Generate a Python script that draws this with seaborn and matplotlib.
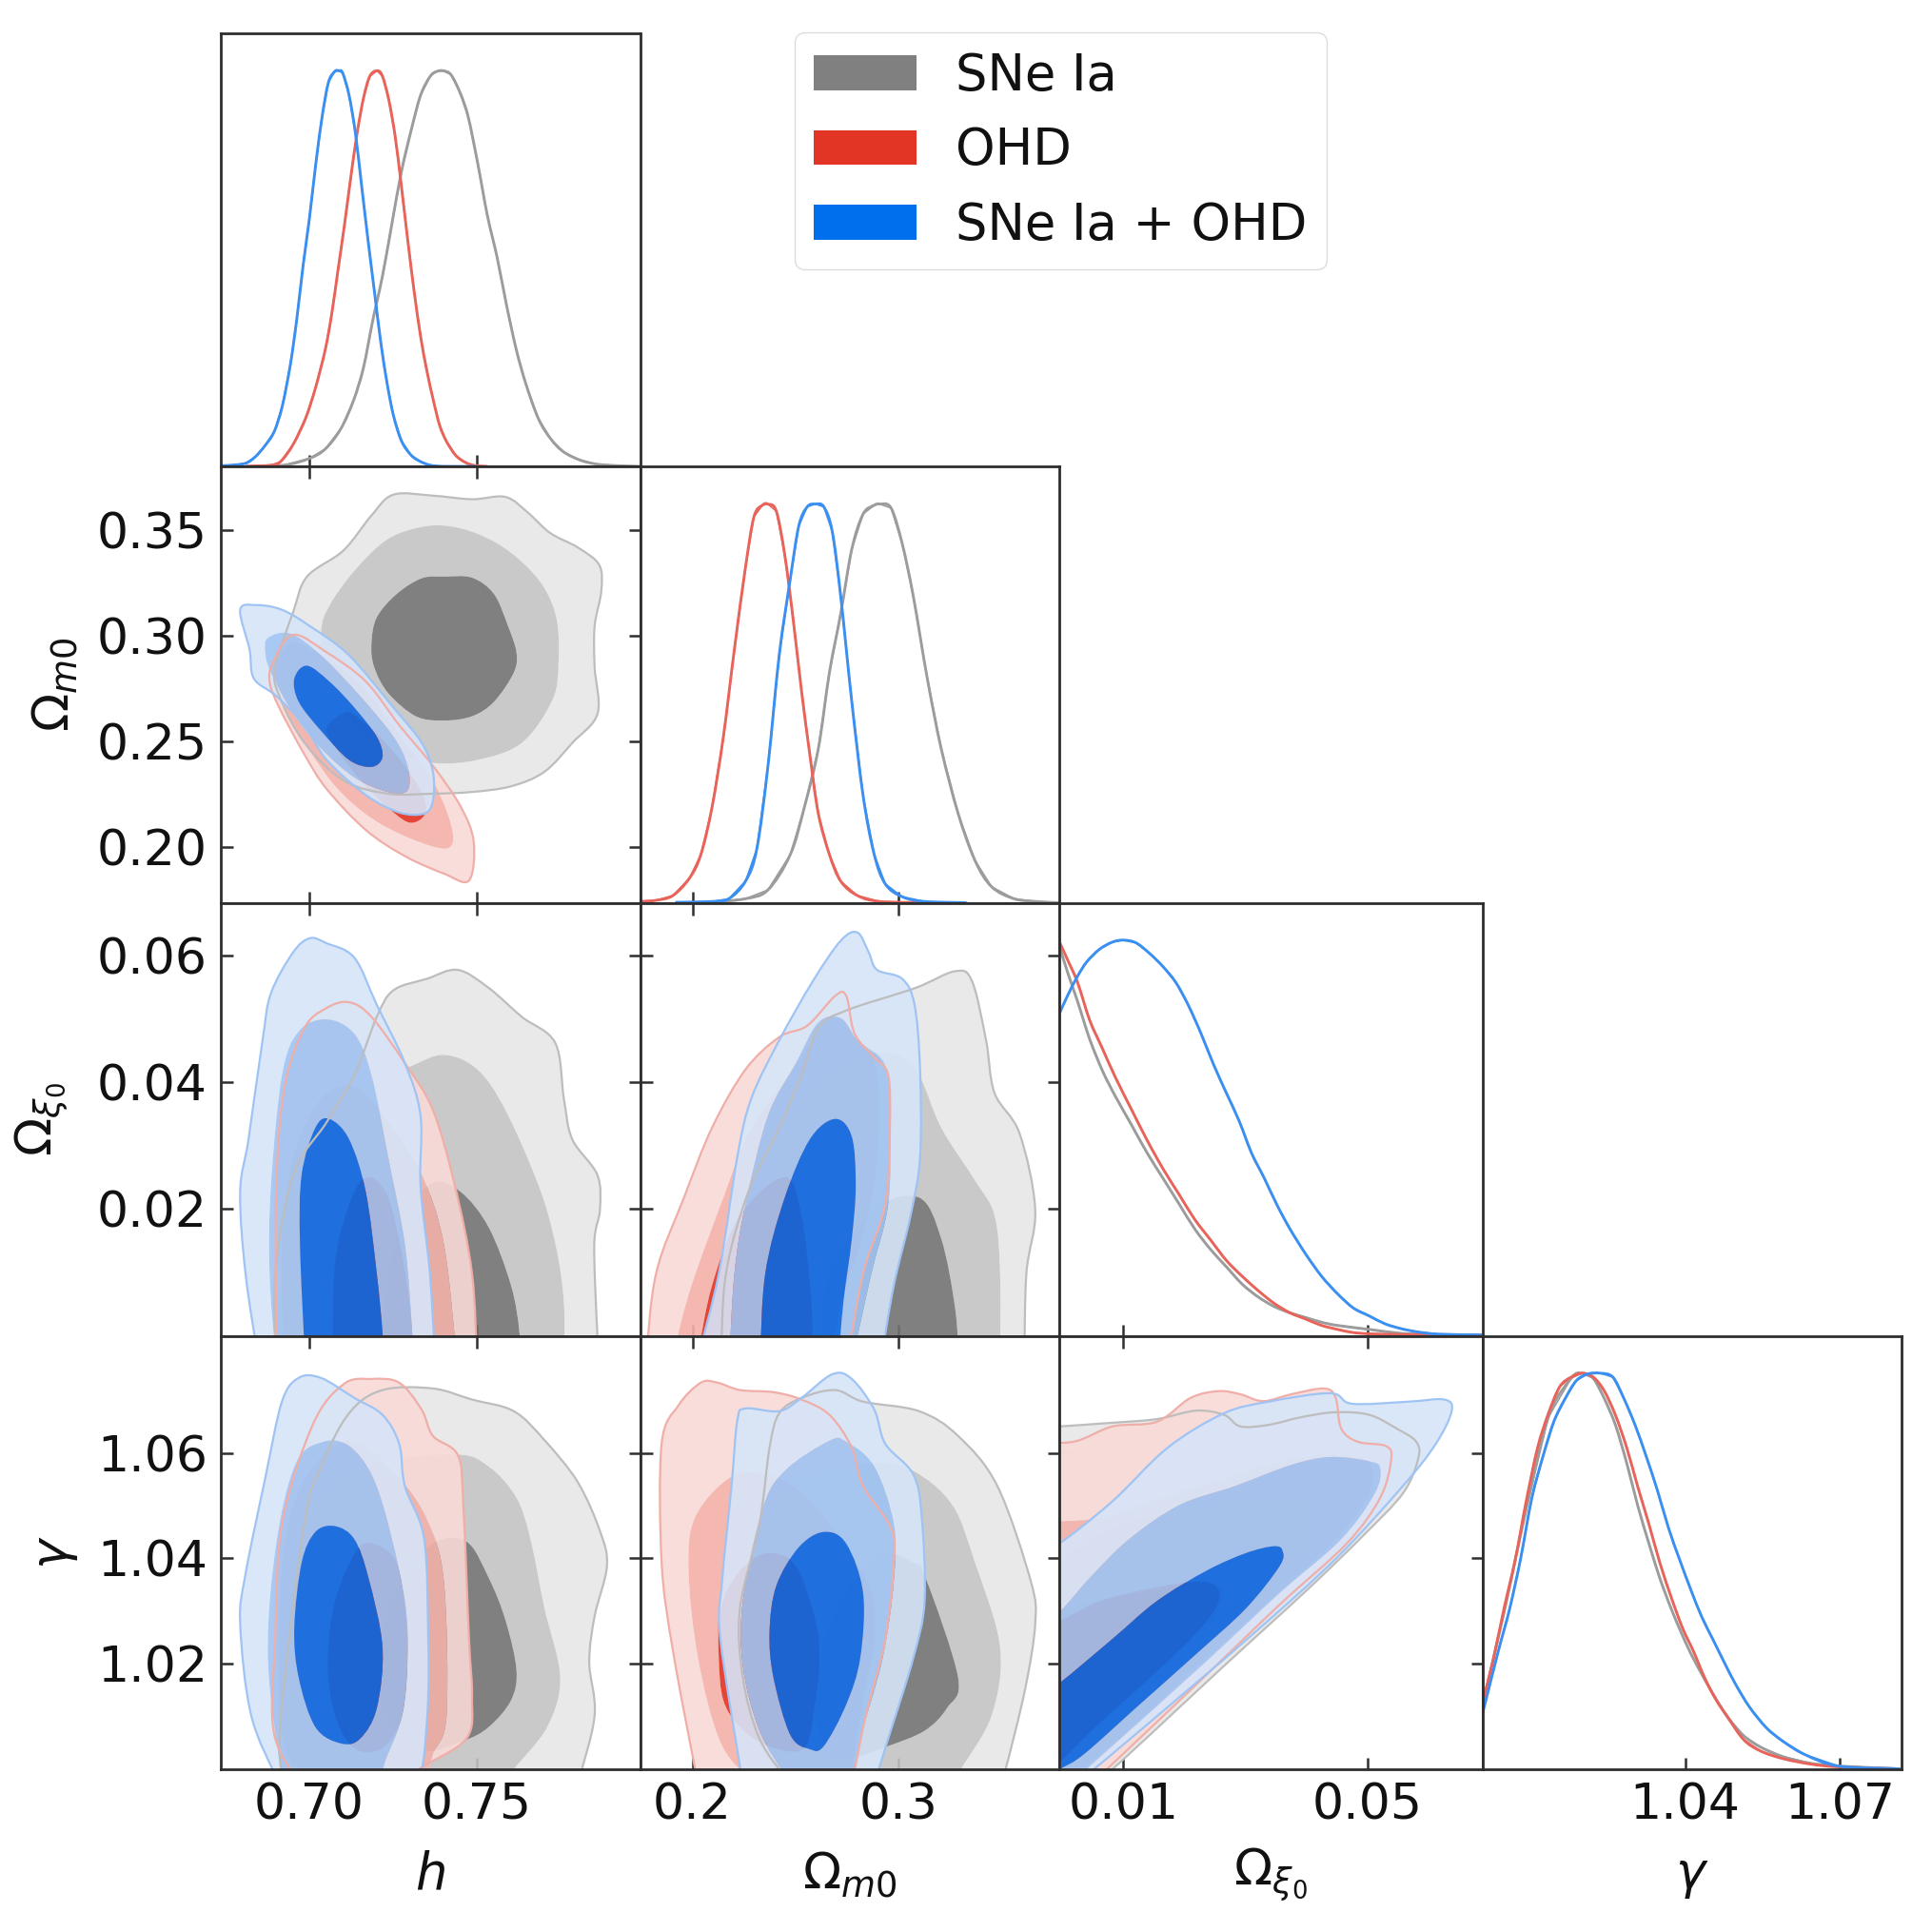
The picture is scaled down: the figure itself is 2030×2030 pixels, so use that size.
import numpy as np
import matplotlib
matplotlib.use("Agg")
import matplotlib.pyplot as plt
from matplotlib.path import Path
from matplotlib.patches import PathPatch, Patch
import seaborn as sns

# ---------- 1D marginals ----------
h_grey_x = [.681,.6924,.70,.7048,.7095,.7133,.7162,.7190,.7219,.7248,.7276,.7305,.7333,.7362,.7381,.74,.7424,.7452,.7476,.7505,.7533,.7562,.7590,.7619,.7648,.7686,.7724,.7762,.7810,.7857,.7914,.799]
h_grey_d = [0,.003,.020,.044,.096,.168,.249,.369,.481,.617,.746,.850,.938,.986,.998,1,.990,.943,.882,.762,.634,.529,.409,.297,.209,.120,.068,.036,.016,.006,.002,0]
h_red_x = [.6810,.6886,.6914,.6952,.6990,.7019,.7048,.7067,.7086,.7105,.7124,.7143,.7162,.7181,.7203,.7219,.7238,.7257,.7276,.7295,.7314,.7333,.7352,.7371,.7390,.7410,.7438,.7467,.7495,.7533]
h_red_d = [0,.003,.012,.056,.124,.200,.296,.385,.497,.609,.730,.842,.930,.986,1,.986,.926,.834,.706,.569,.441,.329,.241,.168,.104,.064,.028,.010,.002,0]
h_blue_x = [.6733,.6771,.6810,.6838,.6867,.6895,.6919,.6943,.6962,.6981,.70,.7019,.7038,.7057,.7076,.7088,.71,.7119,.7138,.7157,.7176,.7195,.7214,.7233,.7252,.7276,.7305,.7333,.7362,.74,.75]
h_blue_d = [.0016,.0032,.008,.024,.052,.088,.152,.256,.369,.505,.625,.762,.882,.970,.998,1,.994,.938,.842,.706,.570,.441,.313,.209,.128,.064,.028,.012,.003,0,0]

m_grey_x = [.2095,.2258,.2367,.2476,.2544,.2612,.2666,.2721,.2775,.2830,.2884,.2911,.2966,.3020,.3074,.3142,.3210,.3292,.3374,.3455,.3564,.3673,.3787]
m_grey_d = [.001,.010,.032,.121,.239,.386,.577,.725,.887,.975,.997,1,.990,.901,.769,.563,.386,.224,.106,.040,.010,.003,0]
m_red_x = [.1744,.1823,.1905,.1986,.2041,.2095,.2150,.2204,.2258,.2299,.2340,.2367,.2408,.2449,.2490,.2530,.2571,.2612,.2666,.2721,.2802,.2911,.3129]
m_red_d = [.003,.006,.018,.062,.121,.239,.415,.636,.842,.968,.997,1,.982,.872,.710,.533,.371,.224,.121,.054,.018,.003,0]
m_blue_x = [.1918,.2095,.2177,.2258,.2313,.2367,.2422,.2476,.2517,.2558,.2598,.2639,.2680,.2721,.2775,.2830,.2884,.2938,.3020,.3129,.3333]
m_blue_d = [.001,.003,.010,.054,.135,.342,.621,.813,.945,.993,1,.993,.931,.769,.504,.268,.121,.047,.015,.003,0]

xi_grey_x = [-.0004,.0009,.0025,.0045,.0066,.0087,.0113,.0139,.0165,.0191,.0217,.0243,.0269,.0295,.0321,.0347,.0373,.0399,.0425,.0451,.0503,.0555,.0606,.0687]
xi_grey_d = [.981,.917,.845,.749,.669,.605,.534,.462,.398,.334,.270,.218,.174,.130,.098,.074,.058,.046,.034,.026,.016,.006,.003,.002]
xi_red_x = [-.0004,.0009,.0025,.0045,.0066,.0087,.0113,.0139,.0165,.0191,.0217,.0243,.0269,.0295,.0321,.0347,.0373,.0399,.0425,.0451,.0477,.0503,.0555,.0687]
xi_red_d = [.993,.949,.893,.797,.725,.653,.573,.494,.422,.358,.294,.242,.190,.150,.114,.082,.058,.042,.026,.016,.008,.005,.003,.002]
xi_blue_x = [-.0004,.0009,.0025,.0040,.0061,.0082,.01,.0121,.0144,.0165,.0186,.0206,.0227,.0248,.0269,.0290,.0310,.0331,.0352,.0373,.0399,.0425,.0451,.0477,.0503,.0529,.0555,.0581,.0617,.0687]
xi_blue_d = [.817,.861,.909,.945,.977,.995,1,.993,.965,.933,.893,.837,.765,.685,.613,.542,.462,.398,.330,.270,.206,.150,.106,.070,.050,.030,.018,.010,.004,.002]

g_grey_x = [1.0008,1.0049,1.0092,1.0135,1.0179,1.02,1.0222,1.0243,1.0265,1.0287,1.0308,1.0330,1.0351,1.0373,1.0395,1.0416,1.0449,1.0481,1.0513,1.0546,1.0589,1.0643,1.0697,1.0816]
g_grey_d = [.167,.395,.656,.889,.987,1,.987,.937,.869,.772,.666,.569,.482,.405,.337,.279,.201,.134,.085,.056,.032,.015,.008,.001]
g_red_x = [1.0008,1.0027,1.0049,1.0071,1.0092,1.0114,1.0135,1.0157,1.0179,1.02,1.0222,1.0243,1.0265,1.0287,1.0308,1.0330,1.0351,1.0373,1.0395,1.0416,1.0438,1.0459,1.0481,1.0513,1.0546,1.0589,1.0643,1.0697,1.0816]
g_red_d = [.172,.269,.405,.530,.676,.811,.898,.966,.990,1,.990,.956,.894,.811,.714,.618,.521,.434,.356,.298,.230,.177,.134,.075,.046,.027,.013,.006,.001]
g_blue_x = [1.0008,1.0038,1.0060,1.0081,1.0103,1.0125,1.0146,1.0168,1.0189,1.0211,1.0236,1.0260,1.0281,1.0303,1.0324,1.0346,1.0368,1.0389,1.0411,1.0432,1.0454,1.0476,1.0497,1.0524,1.0557,1.0589,1.0632,1.0697,1.0816]
g_blue_d = [.143,.298,.405,.530,.685,.792,.879,.937,.981,.998,1,.990,.937,.869,.792,.705,.608,.530,.453,.385,.327,.269,.216,.158,.105,.071,.037,.008,.001]

# ---------- 2D contours: (h, Omega_m0) ----------
hm_grey3_x = [.7252,.7370,.7487,.7587,.7654,.7721,.7804,.7868,.7874,.7854,.7854,.7863,.7788,.7704,.7604,.7487,.7370,.7236,.7102,.6985,.6910,.6898,.6952,.6993,.7102,.7186]
hm_grey3_y = [.3670,.3665,.3648,.3659,.3585,.3488,.3419,.3336,.3212,.3046,.2853,.2632,.2494,.2356,.2287,.2260,.2252,.2252,.2315,.2494,.2715,.2853,.3115,.3281,.3405,.3571]
hm_grey2_x = [.7353,.7453,.7553,.7637,.7704,.7741,.7746,.7729,.7637,.7503,.7370,.7252,.7135,.7043,.7035,.7060,.7135,.7236]
hm_grey2_y = [.3521,.3510,.3447,.3350,.3226,.3074,.2881,.2701,.2494,.2412,.2398,.2453,.2577,.2798,.3019,.3143,.3309,.3460]
hm_grey1_x = [.7403,.7487,.7553,.7595,.7620,.7612,.7553,.7487,.7403,.7319,.7236,.7194,.7186,.7202,.7261,.7336]
hm_grey1_y = [.3281,.3276,.3198,.3046,.2922,.2826,.2688,.2619,.2599,.2619,.2729,.2853,.2964,.3088,.3198,.3273]
hm_red3_x = [.6952,.6893,.6881,.6910,.6985,.7052,.7169,.7286,.7403,.7478,.7492,.7453,.7370,.7269,.7169,.7052]
hm_red3_y = [.3005,.2881,.2784,.2660,.2439,.2274,.2080,.1956,.1873,.1840,.2025,.2191,.2384,.2577,.2784,.2922]
hm_red2_x = [.6943,.6901,.6926,.7002,.7085,.7186,.7303,.7411,.7428,.7378,.7286,.7169,.7052]
hm_red2_y = [.2964,.2826,.2660,.2453,.2274,.2136,.2039,.1992,.2080,.2287,.2494,.2743,.2895]
hm_red1_x = [.7110,.7052,.7085,.7169,.7252,.7303,.7344,.7344,.7286,.7211,.7152]
hm_red1_y = [.2638,.2563,.2453,.2287,.2163,.2114,.2149,.2232,.2384,.2522,.2605]
hm_blue3_x = [.6793,.6843,.6918,.7002,.7119,.7252,.7336,.7370,.7370,.7344,.7269,.7169,.7052,.6985,.6901,.6834,.6821]
hm_blue3_y = [.3124,.3146,.3124,.3046,.2908,.2660,.2494,.2356,.2218,.2158,.2163,.2246,.2412,.2577,.2715,.2798,.2936]
hm_blue2_x = [.6876,.6943,.7035,.7152,.7252,.7294,.7294,.7236,.7135,.7035,.6952,.6885,.6868]
hm_blue2_y = [.2991,.3011,.2908,.2715,.2522,.2384,.2268,.2260,.2329,.2467,.2632,.2826,.2922]
hm_blue1_x = [.6993,.7060,.7135,.7202,.7219,.7186,.7119,.7035,.6968,.6955]
hm_blue1_y = [.2859,.2784,.2660,.2522,.2425,.2379,.2412,.2550,.2688,.2798]

# ---------- (h, Omega_xi0) ----------
hx_grey3_x = [.6901,.6898,.6952,.7052,.7135,.7202,.7252,.7352,.7444,.7536,.7636,.7736,.7762,.7787,.7862,.7870,.7853,.7862,.7870]
hx_grey3_y = [-.005,.0098,.0254,.0337,.0411,.0503,.0545,.0563,.0577,.0549,.0503,.0462,.0374,.0310,.0254,.0199,.0144,.0005,-.005]
hx_grey2_x = [.6910,.6910,.6968,.7052,.7186,.7303,.7403,.7503,.7587,.7687,.7737,.7762,.7762]
hx_grey2_y = [-.005,.0098,.0282,.0365,.0397,.0425,.0443,.0420,.0356,.0236,.0144,.0052,-.005]
hx_grey1_x = [.7211,.7236,.7286,.7370,.7453,.7537,.7604,.7629,.7629]
hx_grey1_y = [-.005,.0098,.0190,.0241,.0227,.0171,.0079,.0005,-.005]
hx_red3_x = [.6901,.6901,.6926,.6985,.7052,.7119,.7186,.7286,.7370,.7436,.7487,.7503]
hx_red3_y = [-.005,.0236,.0393,.0485,.0517,.0526,.0503,.0430,.0356,.0236,.0098,-.005]
hx_red2_x = [.6926,.6918,.6952,.7035,.7135,.7236,.7336,.7403,.7445]
hx_red2_y = [-.005,.0144,.0282,.0374,.0393,.0337,.0254,.0144,-.005]
hx_red1_x = [.7069,.7077,.7127,.7177,.7236,.7278,.7303,.7311]
hx_red1_y = [-.005,.0116,.0218,.0250,.0218,.0125,.0033,-.005]
hx_blue3_x = [.6851,.6809,.6793,.6818,.6860,.6885,.6952,.7002,.7052,.7135,.7202,.7286,.7333,.7333,.7361,.7378]
hx_blue3_y = [-.005,.0098,.0227,.0310,.0466,.0540,.0605,.0627,.0619,.0596,.0522,.0430,.0347,.0236,.0098,-.005]
hx_blue2_x = [.6901,.6881,.6885,.6918,.6968,.7052,.7135,.7186,.7236,.7286,.7308,.7311]
hx_blue2_y = [-.005,.0098,.0236,.0411,.0480,.0499,.0476,.0411,.0282,.0144,.0005,-.005]
hx_blue1_x = [.6988,.6972,.6977,.7018,.7060,.7119,.7169,.7202,.7219,.7222]
hx_blue1_y = [-.005,.0144,.0254,.0328,.0342,.0310,.0227,.0098,.0005,-.005]

# ---------- (Omega_m0, Omega_xi0) ----------
mx_grey3_x = [.2136,.2163,.2272,.2422,.2530,.2612,.2748,.3080,.3278,.3360,.3428,.3469,.3591,.3667,.3624,.3613]
mx_grey3_y = [-.005,.0098,.0227,.0328,.0411,.0485,.0513,.0548,.0575,.0559,.0466,.0383,.0319,.0199,.0098,-.005]
mx_grey2_x = [.2231,.2245,.2367,.2503,.2639,.2830,.2993,.3102,.3210,.3374,.3469,.3496,.3496]
mx_grey2_y = [-.005,.0144,.0254,.0356,.0411,.0443,.0443,.0411,.0328,.0245,.0190,.0098,-.005]
mx_grey1_x = [.2612,.2666,.2884,.3102,.3210,.3278,.3297]
mx_grey1_y = [-.005,.0098,.0199,.0218,.0153,.0042,-.005]
mx_red3_x = [.1769,.1823,.1959,.2095,.2258,.2422,.2558,.2694,.2748,.2789,.2884,.2952,.2960,.2938,.2830,.2748]
mx_red3_y = [-.005,.0098,.0218,.0328,.0420,.0471,.0489,.0536,.0536,.0476,.0439,.0411,.0328,.0208,.0098,-.005]
mx_red2_x = [.1891,.1986,.2150,.2272,.2449,.2639,.2721,.2816,.2898,.2898,.2830,.2721,.2666]
mx_red2_y = [-.005,.0070,.0218,.0319,.0402,.0490,.0499,.0466,.0411,.0282,.0162,.0052,-.005]
mx_red1_x = [.2014,.2095,.2231,.2449,.2530,.2579,.2585]
mx_red1_y = [-.005,.0079,.0190,.0250,.0190,.0052,-.005]
mx_blue3_x = [.2014,.2128,.2218,.2286,.2422,.2585,.2721,.2802,.2857,.2898,.3020,.3080,.3107,.3107,.3061,.2979,.2911]
mx_blue3_y = [-.005,.0098,.0282,.0374,.0466,.0559,.0623,.0636,.0605,.0577,.0563,.0522,.0420,.0282,.0190,.0079,-.005]
mx_blue2_x = [.2177,.2204,.2258,.2367,.2503,.2612,.2721,.2802,.2938,.2960,.2952,.2870,.2802,.2775]
mx_blue2_y = [-.005,.0098,.0208,.0347,.0430,.0494,.0501,.0466,.0425,.0328,.0208,.0098,-.0002,-.005]
mx_blue1_x = [.2326,.2354,.2449,.2571,.2694,.2775,.2794,.2775,.2734,.2707]
mx_blue1_y = [-.005,.0098,.0218,.0310,.0342,.0314,.0236,.0153,.0052,-.005]

# ---------- (h, gamma) ----------
hg_grey3_x = [.6918,.6915,.6985,.7035,.7119,.7219,.7370,.7487,.7612,.7704,.7804,.7871,.7891,.7854,.7838,.7854,.7804]
hg_grey3_y = [.9971,1.0102,1.0465,1.0574,1.0675,1.0719,1.0722,1.0701,1.0679,1.0624,1.0544,1.0450,1.0385,1.0290,1.0203,1.0102,.9971]
hg_grey2_x = [.6952,.6918,.6952,.7018,.7186,.7436,.7537,.7620,.7662,.7704,.7751,.7712,.7612,.7587]
hg_grey2_y = [.9971,1.0102,1.0319,1.0508,1.0577,1.0597,1.0574,1.0515,1.0436,1.0305,1.0174,1.0080,1.0000,.9971]
hg_grey1_x = [.7336,.7227,.7202,.7269,.7370,.7470,.7537,.7587,.7620,.7604,.7537,.7461]
hg_grey1_y = [1.0036,1.0102,1.0211,1.0356,1.0428,1.0432,1.0363,1.0283,1.0189,1.0131,1.0080,1.0054]
hg_red3_x = [.6968,.6893,.6898,.6918,.7010,.7102,.7186,.7269,.7336,.7370,.7445,.7461,.7478,.7487,.7470,.7328,.7303]
hg_red3_y = [.9971,1.0073,1.0247,1.0465,1.0653,1.0730,1.0740,1.0733,1.0682,1.0632,1.0595,1.0501,1.0247,1.0138,1.0058,1.0000,.9971]
hg_red2_x = [.6985,.6918,.6910,.6952,.7052,.7152,.7269,.7353,.7403,.7411,.7370,.7344]
hg_red2_y = [.9971,1.0073,1.0319,1.0501,1.0603,1.0617,1.0552,1.0472,1.0356,1.0102,1.0029,.9971]
hg_red1_x = [.7144,.7202,.7261,.7286,.7294,.7278,.7219,.7135,.7077,.7055,.7077]
hg_red1_y = [1.0417,1.0425,1.0392,1.0305,1.0211,1.0102,1.0040,1.0040,1.0102,1.0203,1.0319]
hg_blue3_x = [.6910,.6826,.6793,.6809,.6868,.6918,.6968,.7035,.7135,.7219,.7269,.7286,.7344,.7356,.7356,.7344,.7328]
hg_blue3_y = [.9971,1.0102,1.0276,1.0370,1.0552,1.0697,1.0742,1.0742,1.0704,1.0672,1.0617,1.0537,1.0436,1.0247,1.0138,1.0029,.9971]
hg_blue2_x = [.6918,.6876,.6901,.6960,.7043,.7119,.7186,.7236,.7286,.7294,.7278,.7227,.7211]
hg_blue2_y = [.9971,1.0211,1.0428,1.0581,1.0621,1.0613,1.0559,1.0465,1.0319,1.0211,1.0102,1.0015,.9971]
hg_blue1_x = [.6955,.6977,.7018,.7077,.7135,.7177,.7219,.7202,.7152,.7094,.7018,.6968]
hg_blue1_y = [1.0269,1.0392,1.0450,1.0461,1.0436,1.0363,1.0232,1.0116,1.0058,1.0049,1.0080,1.0174]

# ---------- (Omega_m0, gamma) ----------
mg_grey3_x = [.2476,.2326,.2245,.2231,.2326,.2375,.2422,.2530,.2694,.2830,.3102,.3292,.3483,.3646,.3667,.3618,.3523,.3496]
mg_grey3_y = [.9971,1.0058,1.0174,1.0305,1.0465,1.0610,1.0675,1.0704,1.0719,1.0697,1.0679,1.0632,1.0537,1.0356,1.0276,1.0152,1.0000,.9971]
mg_grey2_x = [.2449,.2299,.2231,.2394,.2639,.2884,.3074,.3264,.3374,.3496,.3455,.3306,.3278]
mg_grey2_y = [.9971,1.0102,1.0247,1.0508,1.0559,1.0581,1.0566,1.0501,1.0392,1.0232,1.0102,1.0000,.9971]
mg_grey1_x = [.2775,.2639,.2598,.2721,.2911,.3074,.3134,.3292,.3238,.3129,.2952]
mg_grey1_y = [1.0022,1.0036,1.0174,1.0319,1.0407,1.0392,1.0363,1.0174,1.0116,1.0073,1.0044]
mg_red3_x = [.2027,.1905,.1850,.1850,.1932,.2041,.2122,.2231,.2394,.2530,.2666,.2775,.2830,.2966,.2979,.2938,.2843,.2775]
mg_red3_y = [.9971,1.0225,1.0392,1.0617,1.0690,1.0733,1.0733,1.0719,1.0715,1.0701,1.0672,1.0610,1.0537,1.0457,1.0392,1.0247,1.0102,.9971]
mg_red2_x = [.2299,.2136,.2027,.1981,.2014,.2190,.2367,.2530,.2694,.2857,.2884,.2830,.2762]
mg_red2_y = [.9971,1.0051,1.0211,1.0377,1.0479,1.0555,1.0559,1.0523,1.0450,1.0348,1.0247,1.0138,.9971]
mg_red1_x = [.2136,.2231,.2367,.2503,.2598,.2617,.2598,.2544,.2367,.2231,.2150,.2128]
mg_red1_y = [1.0305,1.0377,1.0410,1.0385,1.0283,1.0211,1.0131,1.0040,1.0044,1.0080,1.0131,1.0211]
mg_blue3_x = [.2245,.2136,.2144,.2190,.2218,.2258,.2422,.2530,.2680,.2775,.2884,.2938,.3074,.3115,.3129,.3074,.2952,.2884]
mg_blue3_y = [.9971,1.0247,1.0356,1.0537,1.0661,1.0684,1.0679,1.0704,1.0749,1.0740,1.0682,1.0617,1.0559,1.0479,1.0319,1.0211,1.0058,.9971]
mg_blue2_x = [.2476,.2326,.2245,.2245,.2340,.2449,.2666,.2748,.2884,.2979,.2979,.2925,.2816,.2775]
mg_blue2_y = [.9971,1.0073,1.0196,1.0319,1.0493,1.0566,1.0623,1.0621,1.0574,1.0465,1.0356,1.0211,1.0058,.9971]
mg_blue1_x = [.2375,.2408,.2517,.2639,.2748,.2830,.2816,.2748,.2639,.2571,.2476,.2394]
mg_blue1_y = [1.0261,1.0348,1.0421,1.0450,1.0428,1.0334,1.0211,1.0123,1.0044,1.0038,1.0065,1.0174]

# ---------- (Omega_xi0, gamma) ----------
xg_grey3_x = [-.0056,-.0005,.0082,.0155,.0219,.0265,.0292,.0338,.0393,.0448,.0503,.0548,.0580,.0583,.0558,.0493,.0402,.0265,.0082,.0045,-.0056]
xg_grey3_y = [1.0646,1.0650,1.0657,1.0664,1.0680,1.0672,1.0650,1.0653,1.0668,1.0677,1.0672,1.0646,1.0621,1.0588,1.0523,1.0443,1.0341,1.0196,1.0000,.9971,.9971]
xg_grey2_x = [-.0056,-.0005,.0082,.0173,.0265,.0356,.0402,.0420,.0402,.0310,.0173,.0036,-.0056]
xg_grey2_y = [1.0319,1.0392,1.0457,1.0486,1.0512,1.0519,1.0501,1.0465,1.0414,1.0298,1.0152,1.0015,.9971]
xg_grey1_x = [-.0056,-.0005,.0045,.0127,.0219,.0260,.0265,.0237,.0164,.0082,-.0010,-.0056]
xg_grey1_y = [1.0269,1.0287,1.0316,1.0334,1.0354,1.0345,1.0327,1.0269,1.0189,1.0102,1.0007,.9971]
xg_red3_x = [-.0056,.0018,.0082,.0155,.0210,.0256,.0292,.0329,.0375,.0429,.0448,.0457,.0484,.0530,.0539,.0521,.0466,.0356,.0219,.0073,.0045,-.0056]
xg_red3_y = [1.0621,1.0621,1.0650,1.0659,1.0704,1.0717,1.0711,1.0698,1.0711,1.0722,1.0704,1.0646,1.0621,1.0613,1.0588,1.0515,1.0428,1.0312,1.0160,1.0000,.9971,.9971]
xg_red2_x = [-.0056,.0063,.0146,.0246,.0338,.0420,.0484,.0507,.0503,.0448,.0338,.0201,.0063,-.0010,-.0056]
xg_red2_y = [1.0468,1.0476,1.0508,1.0544,1.0577,1.0595,1.0592,1.0574,1.0523,1.0436,1.0319,1.0174,1.0029,.9971,.9971]
xg_red1_x = [-.0056,-.0001,.0063,.0155,.0228,.0256,.0251,.0210,.0137,.0054,-.0010,-.0056]
xg_red1_y = [1.0261,1.0283,1.0319,1.0345,1.0356,1.0341,1.0305,1.0247,1.0167,1.0080,1.0007,.9971]
xg_blue3_x = [-.0056,-.0005,.0082,.0173,.0265,.0338,.0439,.0475,.0567,.0626,.0638,.0612,.0558,.0448,.0310,.0127,.0036,.0009,-.0056]
xg_blue3_y = [1.0399,1.0428,1.0508,1.0610,1.0675,1.0697,1.0713,1.0693,1.0697,1.0701,1.0679,1.0617,1.0537,1.0399,1.0254,1.0073,.9985,.9971,.9971]
xg_blue2_x = [-.0056,-.0005,.0045,.0109,.0192,.0283,.0375,.0439,.0503,.0521,.0512,.0457,.0356,.0228,.0082,.0018,-.0056]
xg_blue2_y = [1.0254,1.0298,1.0363,1.0436,1.0501,1.0537,1.0577,1.0592,1.0584,1.0570,1.0523,1.0436,1.0334,1.0196,1.0044,.9978,.9971]
xg_blue1_x = [-.0056,-.0005,.0082,.0155,.0237,.0301,.0347,.0361,.0356,.0301,.0219,.0127,.0036,-.0005,-.0056]
xg_blue1_y = [1.0123,1.0163,1.0247,1.0319,1.0377,1.0410,1.0423,1.0414,1.0385,1.0305,1.0218,1.0123,1.0029,1.0000,.9971]

series_names = ["SNe Ia", "OHD", "SNe Ia + OHD"]
h_ticks = [0.70, 0.75]
m_ticks = [0.2, 0.3]
m_yticks = [0.20, 0.25, 0.30, 0.35]
xi_xticks = [0.01, 0.05]
xi_yticks = [0.02, 0.04, 0.06]
g_xticks = [1.04, 1.07]
g_yticks = [1.02, 1.04, 1.06]

# ---------- styling ----------
sns.set_theme(style="white")
plt.rcParams["font.family"] = ["DejaVu Sans"]
plt.rcParams["mathtext.fontset"] = "dejavusans"

FILL_ALPHA = 0.9
TINTS = {"grey": ["#e7e7e7", "#c3c3c3", "#727272"],
         "red": ["#f9dad7", "#f3b1a9", "#e33121"],
         "blue": ["#d6e5f9", "#9ec3f2", "#0869e4"]}
EDGE = {"grey": "#bdbdbd", "red": "#f0aea8", "blue": "#9fc4f4"}
LINE = {"grey": "#9c9c9c", "red": "#e8635a", "blue": "#3b8ff0"}
SOLID = {"grey": "#808080", "red": "#e33526", "blue": "#006fed"}
ORDER = ["grey", "red", "blue"]


def signed_area(x, y):
    x, y = np.asarray(x), np.asarray(y)
    return 0.5 * np.sum(x * np.roll(y, -1) - np.roll(x, -1) * y)


def ring(x, y, xlim, ylim, ccw=True):
    """Closed smooth ring through the read points; points outside the axes join with straight ends."""
    x, y = np.asarray(x, float), np.asarray(y, float)
    if (signed_area(x, y) > 0) != ccw:
        x, y = x[::-1], y[::-1]
    p = np.column_stack([x, y])
    n = len(p)
    out = (x < xlim[0]) | (y < ylim[0])
    tang = np.zeros_like(p)
    for i in range(n):
        a, b = (i - 1) % n, (i + 1) % n
        if out[i] and out[a] and out[b]:
            tang[i] = 0
        elif out[i] and out[b]:
            tang[i] = p[i] - p[a]
        elif out[i] and out[a]:
            tang[i] = p[b] - p[i]
        else:
            tang[i] = (p[b] - p[a]) / 2
    verts = [p[0]]
    codes = [Path.MOVETO]
    for i in range(n):
        j = (i + 1) % n
        verts += [p[i] + tang[i] / 3, p[j] - tang[j] / 3, p[j]]
        codes += [Path.CURVE4] * 3
    return verts, codes


def open_curve(x, y):
    p = np.column_stack([x, y]).astype(float)
    n = len(p)
    tang = np.zeros_like(p)
    tang[1:-1] = (p[2:] - p[:-2]) / 2
    tang[0] = p[1] - p[0]
    tang[-1] = p[-1] - p[-2]
    verts = [p[0]]
    codes = [Path.MOVETO]
    for i in range(n - 1):
        verts += [p[i] + tang[i] / 3, p[i + 1] - tang[i + 1] / 3, p[i + 1]]
        codes += [Path.CURVE4] * 3
    return Path(verts, codes)


def draw_contours(ax, contour_set, xlim, ylim):
    for name in ORDER:
        levels = contour_set[name]  # outer, middle, inner
        for k in range(3):
            v, c = ring(*levels[k], xlim, ylim, ccw=True)
            if k < 2:
                v2, c2 = ring(*levels[k + 1], xlim, ylim, ccw=False)
                v, c = v + v2, c + c2
            ax.add_patch(PathPatch(Path(v, c), facecolor=TINTS[name][k], edgecolor="none",
                                   lw=0, alpha=FILL_ALPHA, zorder=2))
        v, c = ring(*levels[0], xlim, ylim)
        ax.add_patch(PathPatch(Path(v, c), facecolor="none", edgecolor=EDGE[name],
                               lw=1.6, zorder=2.1))


def set_of(prefix):
    g = globals()
    return {n: [(g[f"{prefix}_{n}{k}_x"], g[f"{prefix}_{n}{k}_y"]) for k in (3, 2, 1)] for n in ORDER}


W = 2030.0
cols = [(232, 672.5), (672.5, 1113), (1113, 1558), (1558, 1998)]
rows = [(35, 490), (490, 948.5), (948.5, 1403.5), (1403.5, 1859)]

xlims = [(0.6735, 0.799), (0.1745, 0.3784), (-0.0005, 0.0689), (1.0008, 1.0819)]
ylims = {1: (0.1735, 0.3804), 2: (0.0, 0.0683), 3: (1.0, 1.0822)}
xticks = [h_ticks, m_ticks, xi_xticks, g_xticks]
xfmts = ["%.2f", "%.1f", "%.2f", "%.2f"]
yticks = {1: m_yticks, 2: xi_yticks, 3: g_yticks}
xlabels = [r"$h$", r"$\Omega_{m0}$", r"$\Omega_{\xi_0}$", r"$\gamma$"]
ylabels = {1: r"$\Omega_{m0}$", 2: r"$\Omega_{\xi_0}$", 3: r"$\gamma$"}
ylabel_x = {1: -0.395, 2: -0.425, 3: -0.395}
TICK_FS = 37.5
LABEL_FS = 38

fig = plt.figure(figsize=(20.3, 20.3), dpi=100, facecolor="white")


def make_axes(r, c):
    x0, x1 = cols[c]
    y0, y1 = rows[r]
    ax = fig.add_axes([x0 / W, 1 - y1 / W, (x1 - x0) / W, (y1 - y0) / W])
    ax.set_facecolor("white")
    for s in ax.spines.values():
        s.set_color("#2e2e2e")
        s.set_linewidth(2.0)
        s.set_visible(True)
        s.set_zorder(5)
    return ax


marginals = [
    [(h_grey_x, h_grey_d), (h_red_x, h_red_d), (h_blue_x, h_blue_d)],
    [(m_grey_x, m_grey_d), (m_red_x, m_red_d), (m_blue_x, m_blue_d)],
    [(xi_grey_x, xi_grey_d), (xi_red_x, xi_red_d), (xi_blue_x, xi_blue_d)],
    [(g_grey_x, g_grey_d), (g_red_x, g_red_d), (g_blue_x, g_blue_d)],
]
sets2d = {(1, 0): "hm", (2, 0): "hx", (2, 1): "mx", (3, 0): "hg", (3, 1): "mg", (3, 2): "xg"}

for r in range(4):
    for c in range(r + 1):
        ax = make_axes(r, c)
        if r == c:
            for name, (xs, ds) in zip(ORDER, marginals[c]):
                sns.lineplot(x=xs, y=ds, ax=ax, color=LINE[name], lw=1.2,
                             estimator=None, errorbar=None, legend=False, zorder=3)
                ax.add_patch(PathPatch(open_curve(xs, ds), facecolor="none",
                                       edgecolor=LINE[name], lw=2.1, zorder=3.1))
            ax.set_ylim(0, 1.0946)
            ax.set_yticks([])
            ax.tick_params(axis="x", which="both", direction="in", bottom=True, top=False,
                           length=9, width=1.8, color="#2e2e2e", labelbottom=False)
        else:
            draw_contours(ax, set_of(sets2d[(r, c)]), xlims[c], ylims[r])
            ax.set_ylim(*ylims[r])
            ax.set_yticks(yticks[r])
            ax.tick_params(axis="both", which="both", direction="in", bottom=True, top=True,
                           left=True, right=True, length=9, width=1.8, color="#2e2e2e",
                           labelbottom=False, labelleft=False)
        ax.set_xlim(*xlims[c])
        ax.set_xticks(xticks[c])
        ax.set_xlabel("")
        ax.set_ylabel("")
        if r == 3:
            ax.tick_params(axis="x", labelbottom=True, labelsize=TICK_FS, pad=10, labelcolor="#111111")
            ax.set_xticklabels([xfmts[c] % t for t in xticks[c]])
            ax.set_xlabel(xlabels[c], fontsize=LABEL_FS, color="#111111", va="center")
            ax.xaxis.set_label_coords(0.5, -0.245)
        if c == 0 and r > 0:
            ax.tick_params(axis="y", labelleft=True, labelsize=TICK_FS, pad=10, labelcolor="#111111")
            ax.set_yticklabels(["%.2f" % t for t in yticks[r]])
            ax.set_ylabel(ylabels[r], fontsize=LABEL_FS, color="#111111", va="center")
            ax.yaxis.set_label_coords(ylabel_x[r], 0.5)

handles = [Patch(facecolor=SOLID[n], edgecolor="none", label=s) for n, s in zip(ORDER, series_names)]
fig.legend(handles=handles, loc="upper left", bbox_to_anchor=(835 / W, 1 - 34 / W),
           bbox_transform=fig.transFigure, borderaxespad=0, fontsize=38, frameon=True,
           labelspacing=0.5, borderpad=0.38, handlelength=2.05, handletextpad=0.78,
           framealpha=0.8, edgecolor="#d4d4d4", fancybox=True, labelcolor="#111111")

fig.savefig("out.png", dpi=100, facecolor="white")
